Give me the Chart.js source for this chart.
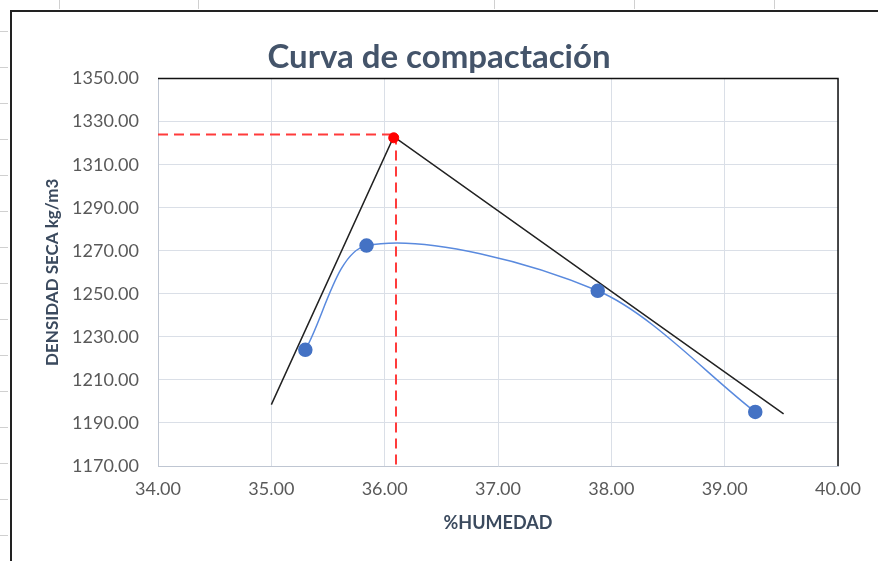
<!DOCTYPE html>
<html lang="es">
<head>
    <meta charset="UTF-8">
    <title>Curva de compactación</title>
    <script src="https://cdn.jsdelivr.net/npm/chart.js@4.4.0/dist/chart.umd.min.js"></script>
    <style>
        html, body { margin: 0; padding: 0; background: #fff; }
        .wrap { width: 878px; height: 561px; position: relative; }
    </style>
</head>
<body>
    <div class="wrap">
        <canvas id="curva"></canvas>
    </div>

    <script>
        // ensayo proctor: humedad (%) vs densidad seca (kg/m3)
        const humedad = [35.30, 35.84, 37.88, 39.27];
        const densidad = [1224.0, 1272.4, 1251.4, 1195.1];

        // rectas tangentes dibujadas a mano en la hoja
        const rectaX = [35.00, 36.08, 39.52];
        const rectaY = [1198.5, 1323.0, 1194.2];

        // densidad maxima / humedad optima
        const optimoX = [36.08];
        const optimoY = [1322.5];
        const guiaHorX = [34.00, 36.08];
        const guiaHorY = [1324.0, 1324.0];
        const guiaVerX = [36.10, 36.10];
        const guiaVerY = [1324.0, 1170.0];

        const xTicks = [34, 35, 36, 37, 38, 39, 40];
        const yTicks = [1170, 1190, 1210, 1230, 1250, 1270, 1290, 1310, 1330, 1350];

        const pts = (xs, ys) => xs.map((x, i) => ({ x: x, y: ys[i] }));

        const FONT = 'Lato, "Open Sans", sans-serif';

        // marco de la hoja de calculo + borde negro superior/derecho del area de trazado
        const hojaPlugin = {
            id: 'hoja',
            beforeDraw(chart) {
                const ctx = chart.ctx;
                ctx.save();
                ctx.fillStyle = '#fff';
                ctx.fillRect(0, 0, chart.width, chart.height);
                ctx.strokeStyle = '#d0d0d0';
                ctx.lineWidth = 1;
                [59, 198, 494, 634, 774].forEach(x => {
                    ctx.beginPath(); ctx.moveTo(x + 0.5, 0); ctx.lineTo(x + 0.5, 9); ctx.stroke();
                });
                for (let y = 31; y < chart.height; y += 36) {
                    ctx.beginPath(); ctx.moveTo(0, y + 0.5); ctx.lineTo(8, y + 0.5); ctx.stroke();
                }
                ctx.strokeStyle = '#222';
                ctx.lineWidth = 2;
                ctx.beginPath();
                ctx.moveTo(11, chart.height);
                ctx.lineTo(11, 11);
                ctx.lineTo(chart.width, 11);
                ctx.stroke();
                ctx.restore();
            },
            afterDraw(chart) {
                const a = chart.chartArea;
                const ctx = chart.ctx;
                ctx.save();
                ctx.strokeStyle = '#111';
                ctx.lineWidth = 1.5;
                ctx.beginPath();
                ctx.moveTo(a.left, a.top);
                ctx.lineTo(a.right, a.top);
                ctx.lineTo(a.right, a.bottom);
                ctx.stroke();
                ctx.restore();
            }
        };

        new Chart(document.getElementById('curva'), {
            type: 'scatter',
            data: {
                datasets: [{
                    label: 'Optimo',
                    data: pts(optimoX, optimoY),
                    backgroundColor: '#ff0000',
                    borderColor: '#ff0000',
                    pointRadius: 5,
                    showLine: false,
                    order: 0
                }, {
                    label: 'Curva',
                    data: pts(humedad, densidad),
                    borderColor: '#5a8ade',
                    backgroundColor: '#4472c4',
                    pointBackgroundColor: '#4472c4',
                    pointBorderColor: '#4472c4',
                    pointRadius: 6.5,
                    borderWidth: 1.5,
                    showLine: true,
                    tension: 0.3,
                    order: 1
                }, {
                    label: 'Tangentes',
                    data: pts(rectaX, rectaY),
                    borderColor: '#222',
                    borderWidth: 1.5,
                    pointRadius: 0,
                    showLine: true,
                    tension: 0,
                    order: 2
                }, {
                    label: 'Guia horizontal',
                    data: pts(guiaHorX, guiaHorY),
                    borderColor: '#ff3b3b',
                    borderWidth: 2,
                    borderDash: [10, 6],
                    pointRadius: 0,
                    showLine: true,
                    order: 3
                }, {
                    label: 'Guia vertical',
                    data: pts(guiaVerX, guiaVerY),
                    borderColor: '#ff3b3b',
                    borderWidth: 2,
                    borderDash: [10, 6],
                    pointRadius: 0,
                    showLine: true,
                    order: 3
                }]
            },
            options: {
                responsive: true,
                maintainAspectRatio: false,
                animation: false,
                layout: { padding: 0 },
                plugins: {
                    legend: { display: false },
                    tooltip: { enabled: false },
                    title: {
                        display: true,
                        text: 'Curva de compactación',
                        color: '#44546a',
                        font: { family: FONT, size: 33, weight: 'bold' },
                        padding: { top: 38, bottom: 1 }
                    }
                },
                scales: {
                    x: {
                        type: 'linear',
                        min: xTicks[0],
                        max: xTicks[xTicks.length - 1],
                        afterBuildTicks: s => { s.ticks = xTicks.map(v => ({ value: v })); },
                        afterFit: s => { s.height = 95; },
                        ticks: {
                            padding: 12,
                            color: '#595959',
                            font: { family: FONT, size: 18 },
                            callback: v => v.toFixed(2)
                        },
                        grid: { color: '#dadfe7', drawTicks: false },
                        border: { color: '#bfc6d2' },
                        title: {
                            display: true,
                            text: '%HUMEDAD',
                            color: '#3b4a5e',
                            font: { family: FONT, size: 18, weight: 'bold' },
                            padding: { top: 0, bottom: 27 }
                        }
                    },
                    y: {
                        type: 'linear',
                        min: yTicks[0],
                        max: yTicks[yTicks.length - 1],
                        afterBuildTicks: s => { s.ticks = yTicks.map(v => ({ value: v })); },
                        afterFit: s => { s.width = 158; },
                        ticks: {
                            padding: 19,
                            color: '#595959',
                            font: { family: FONT, size: 18 },
                            callback: v => v.toFixed(2)
                        },
                        grid: { color: '#dadfe7', drawTicks: false },
                        border: { color: '#bfc6d2' },
                        title: {
                            display: true,
                            text: 'DENSIDAD SECA kg/m3',
                            color: '#3b4a5e',
                            font: { family: FONT, size: 17, weight: 'bold' },
                            padding: { top: 42, bottom: 0 }
                        }
                    },
                    // eje vacio a la derecha, solo reserva el margen
                    margen: {
                        type: 'linear',
                        position: 'right',
                        min: yTicks[0],
                        max: yTicks[yTicks.length - 1],
                        afterFit: s => { s.width = 40; },
                        ticks: { display: false },
                        grid: { display: false, drawTicks: false },
                        border: { display: false }
                    }
                }
            },
            plugins: [hojaPlugin]
        });
    </script>
</body>
</html>
